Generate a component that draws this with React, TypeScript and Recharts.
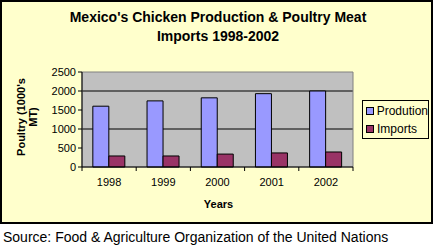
import { Bar, BarChart, CartesianGrid, ReferenceArea, XAxis, YAxis } from "recharts";

const YEARS = ["1998", "1999", "2000", "2001", "2002"];
const PRODUCTION = [1600, 1740, 1820, 1930, 2000];
const IMPORTS = [290, 290, 340, 370, 395];
const Y_TICKS = [0, 500, 1000, 1500, 2000, 2500];

const FONT = '"Liberation Sans", Arial, sans-serif';

const W = 433;
const H = 224;
const PLOT_LEFT = 82;
const PLOT_RIGHT = 353;
const PLOT_TOP = 72;
const PLOT_BOTTOM = 167;
const X_AXIS_H = 30;

const data = YEARS.map((year, i) => ({
  year,
  production: PRODUCTION[i],
  imports: IMPORTS[i],
}));

function YearTick(props: any) {
  const { x, y, payload, index } = props;
  const half =
    payload && typeof payload.offset === "number" && payload.offset > 0
      ? payload.offset
      : (PLOT_RIGHT - PLOT_LEFT) / YEARS.length / 2;
  const isLast = index === YEARS.length - 1;
  return (
    <g>
      <line x1={x - half} x2={x - half} y1={y - 4} y2={y} stroke="#000" />
      {isLast ? (
        <line x1={x + half} x2={x + half} y1={y - 4} y2={y} stroke="#000" />
      ) : null}
      <text
        x={x}
        y={y + 11}
        textAnchor="middle"
        dominantBaseline="central"
        fontSize={11}
        fontFamily={FONT}
        fill="#000"
      >
        {payload.value}
      </text>
    </g>
  );
}

export default function App() {
  return (
    <div
      style={{
        position: "absolute",
        left: 0,
        top: 0,
        width: W,
        height: 246,
        background: "#fff",
        fontFamily: FONT,
        color: "#000",
      }}
    >
      <div
        style={{
          position: "absolute",
          left: 0,
          top: 0,
          width: W,
          height: H,
          boxSizing: "border-box",
          border: "2px solid #000",
          background: "#FFFFCC",
        }}
      />

      <div
        style={{
          position: "absolute",
          left: 0,
          top: 8,
          width: 436,
          textAlign: "center",
          fontSize: 14,
          fontWeight: "bold",
          lineHeight: "19px",
        }}
      >
        Mexico's Chicken Production &amp; Poultry Meat
        <br />
        Imports 1998-2002
      </div>

      <div style={{ position: "absolute", left: 0, top: 0 }}>
        <BarChart
          width={W}
          height={H}
          data={data}
          margin={{
            top: PLOT_TOP,
            right: W - PLOT_RIGHT,
            bottom: H - PLOT_BOTTOM - X_AXIS_H,
            left: 0,
          }}
          barCategoryGap="20%"
          barGap={0}
        >
          <CartesianGrid
            fill="#C0C0C0"
            stroke="#000"
            vertical={false}
            horizontalValues={[500, 1000, 1500, 2000]}
          />
          <ReferenceArea
            y1={0}
            y2={2500}
            fill="none"
            stroke="#808080"
            strokeWidth={1}
          />
          <XAxis
            dataKey="year"
            height={X_AXIS_H}
            axisLine={{ stroke: "#000" }}
            tickLine={false}
            tickSize={4}
            tickMargin={0}
            tick={<YearTick />}
            interval={0}
          />
          <YAxis
            width={PLOT_LEFT}
            domain={[0, 2500]}
            ticks={Y_TICKS}
            axisLine={{ stroke: "#000" }}
            tickLine={{ stroke: "#000" }}
            tickSize={4}
            tickMargin={2}
            tick={{ fill: "#000", fontSize: 11, fontFamily: FONT }}
          />
          <Bar
            dataKey="production"
            fill="#9999FF"
            stroke="#000"
            strokeWidth={1}
            isAnimationActive={false}
          />
          <Bar
            dataKey="imports"
            fill="#993366"
            stroke="#000"
            strokeWidth={1}
            isAnimationActive={false}
          />
        </BarChart>
      </div>

      {/* y axis title */}
      <div
        style={{
          position: "absolute",
          left: 28 - 60,
          top: 117 - 13,
          width: 120,
          textAlign: "center",
          fontSize: 11,
          fontWeight: "bold",
          lineHeight: "12px",
          transform: "rotate(-90deg)",
          transformOrigin: "60px 13px",
        }}
      >
        Poultry (1000's
        <br />
        MT)
      </div>

      <div
        style={{
          position: "absolute",
          left: PLOT_LEFT,
          width: PLOT_RIGHT - PLOT_LEFT + 2,
          top: 197,
          textAlign: "center",
          fontSize: 11,
          fontWeight: "bold",
          lineHeight: "14px",
        }}
      >
        Years
      </div>

      {/* legend */}
      <div
        style={{
          position: "absolute",
          left: 362,
          top: 100,
          width: 67,
          height: 39,
          boxSizing: "border-box",
          border: "1px solid #000",
          fontSize: 12,
          lineHeight: "18px",
          paddingTop: 1,
          paddingLeft: 3,
        }}
      >
        {[
          { label: "Prodution", color: "#9999FF" },
          { label: "Imports", color: "#993366" },
        ].map((item) => (
          <div key={item.label} style={{ display: "flex", alignItems: "center", height: 18 }}>
            <span
              style={{
                display: "inline-block",
                width: 6,
                height: 6,
                border: "1px solid #000",
                background: item.color,
                marginRight: 3,
              }}
            />
            {item.label}
          </div>
        ))}
      </div>

      <div
        style={{
          position: "absolute",
          left: 3,
          top: 228,
          fontSize: 14,
          lineHeight: "18px",
          whiteSpace: "nowrap",
        }}
      >
        Source: Food &amp; Agriculture Organization of the United Nations
      </div>
    </div>
  );
}
